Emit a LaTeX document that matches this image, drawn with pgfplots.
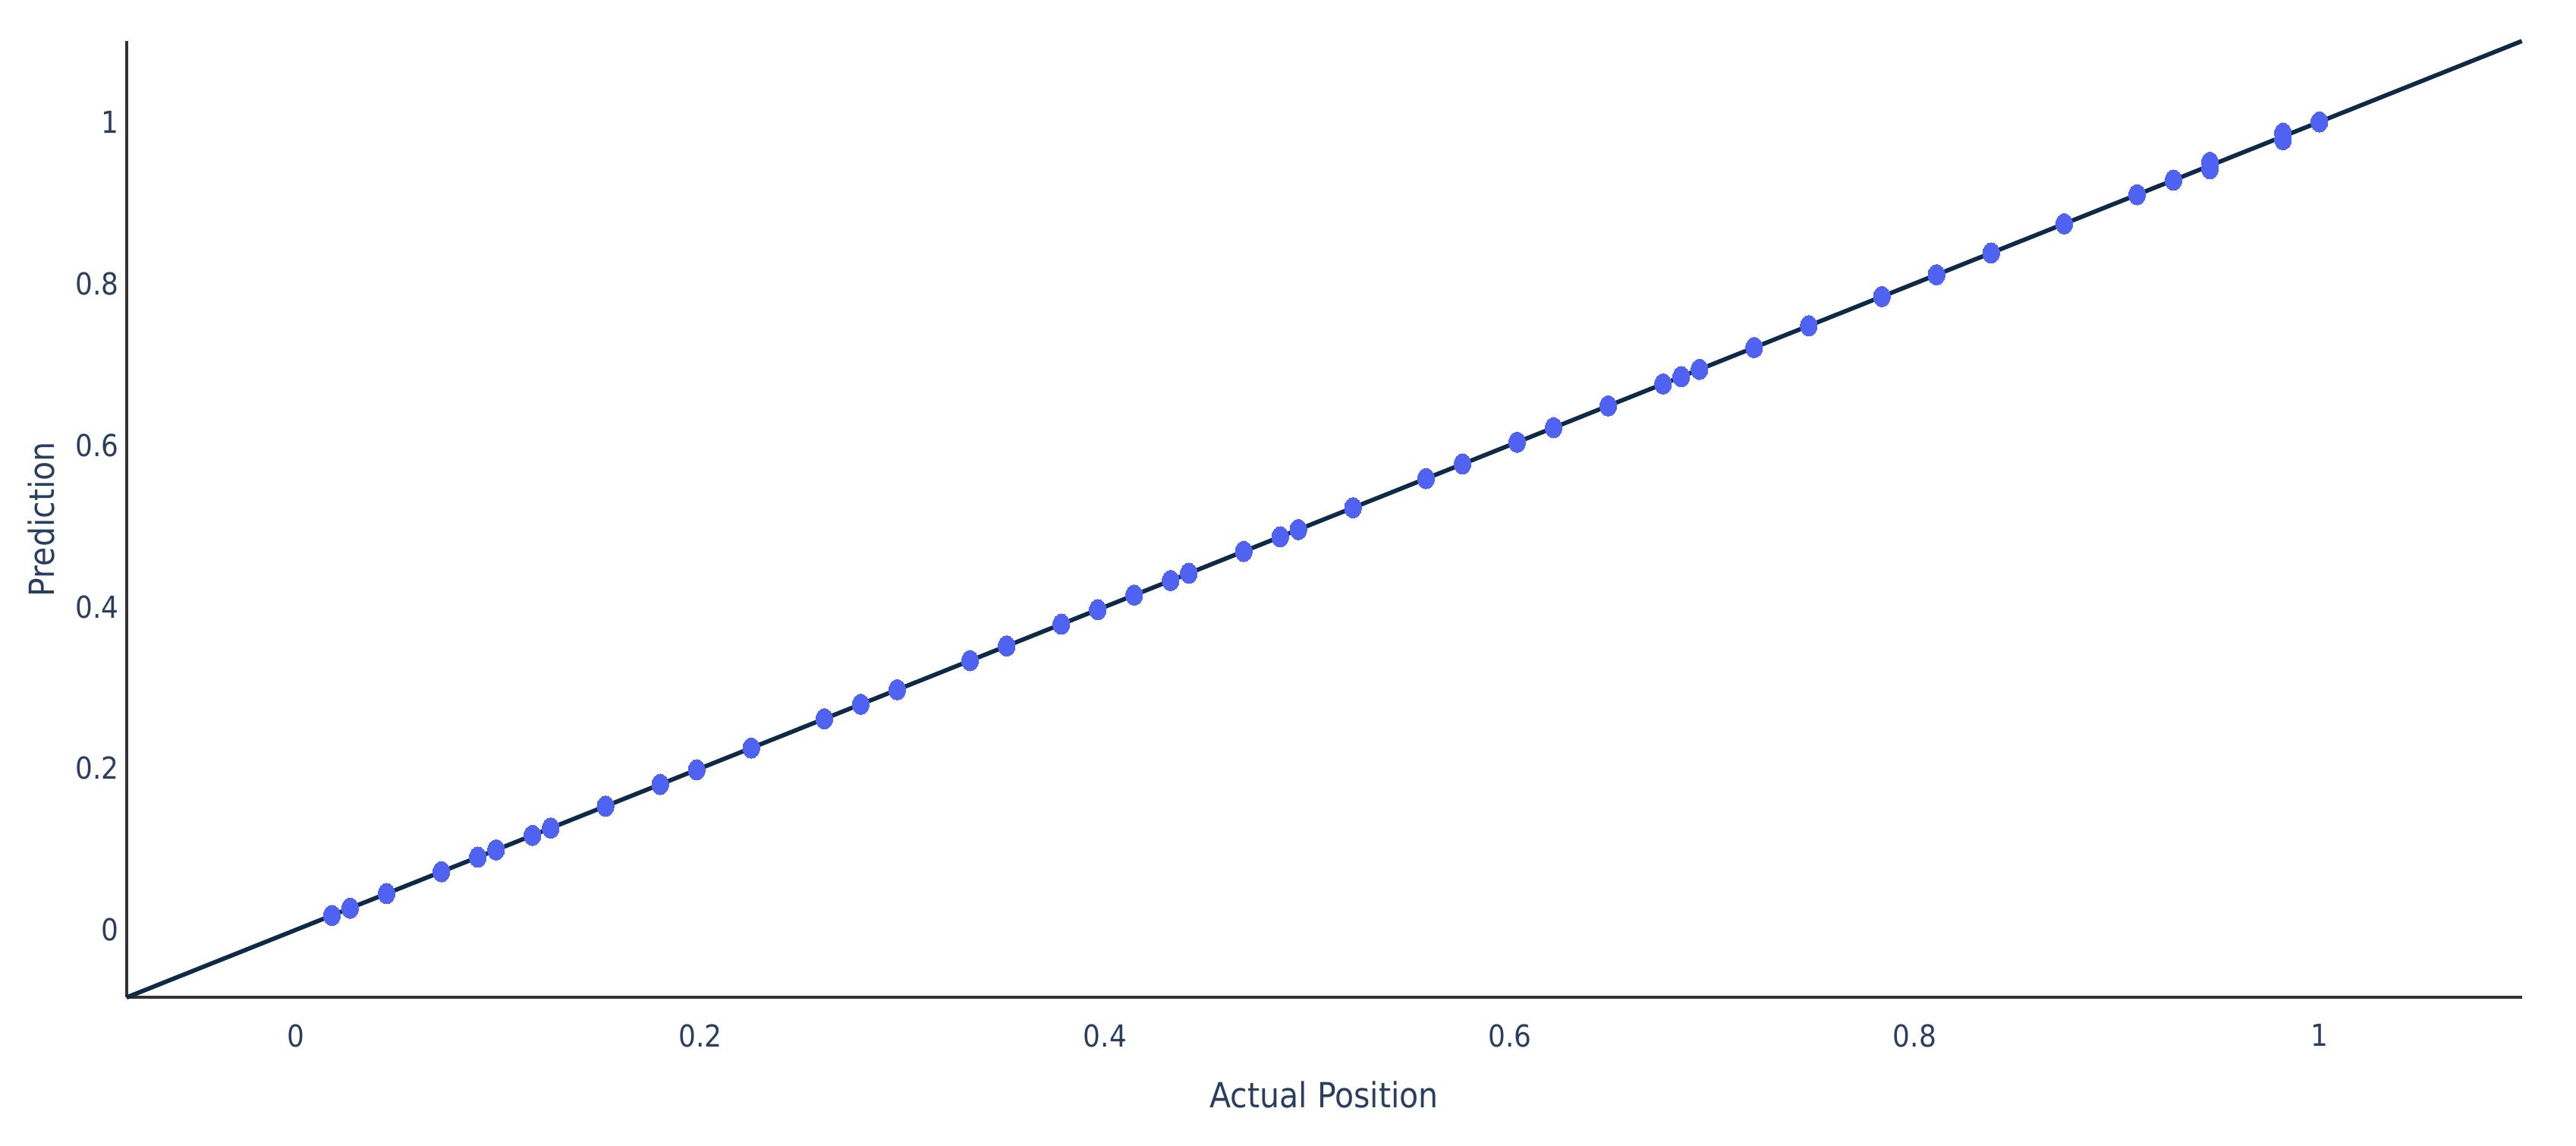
\documentclass[border=0pt]{standalone}
\usepackage{pgfplots}
\pgfplotsset{compat=1.18}
\usepackage{fontspec}
\setmainfont{DejaVu Sans Condensed}
\definecolor{txt}{HTML}{2A3F5F}
\definecolor{mk}{HTML}{4F62F2}
\definecolor{ln}{HTML}{0F2A47}
\definecolor{ax}{HTML}{333333}
\pgfplotstableread{
x y
0.0180 0.0180
0.0270 0.0270
0.0450 0.0450
0.0721 0.0721
0.0901 0.0901
0.0991 0.0991
0.1171 0.1171
0.1261 0.1261
0.1532 0.1532
0.1802 0.1802
0.1982 0.1982
0.2252 0.2252
0.2613 0.2613
0.2793 0.2793
0.2973 0.2973
0.3333 0.3333
0.3514 0.3514
0.3784 0.3784
0.3964 0.3964
0.4144 0.4144
0.4324 0.4324
0.4414 0.4414
0.4685 0.4685
0.4865 0.4865
0.4955 0.4955
0.5225 0.5225
0.5586 0.5586
0.5766 0.5766
0.6036 0.6036
0.6216 0.6216
0.6486 0.6486
0.6757 0.6757
0.6847 0.6847
0.6937 0.6937
0.7207 0.7207
0.7477 0.7477
0.7838 0.7838
0.8108 0.8108
0.8378 0.8378
0.8739 0.8739
0.9099 0.9099
0.9279 0.9279
0.9459 0.9420
0.9459 0.9500
0.9820 0.9780
0.9820 0.9860
1.0000 1.0000
}\points
\begin{document}
\begin{tikzpicture}
\begin{axis}[
  scale only axis,
  width=291.6mm, height=116.4mm,
  xmin=-0.0835, xmax=1.1, ymin=-0.0835, ymax=1.1,
  axis lines*=left,
  axis line style={ax, line width=1.1pt},
  major tick length=0pt,
  xtick={0,0.2,0.4,0.6,0.8,1},
  xticklabels={0,0.2,0.4,0.6,0.8,1},
  ytick={0,0.2,0.4,0.6,0.8,1},
  yticklabels={0,0.2,0.4,0.6,0.8,1},
  tick label style={font=\fontsize{10.5}{12}\selectfont, text=txt},
  xticklabel style={yshift=-2.0mm},
  yticklabel style={inner sep=2.5pt},
  xlabel={Actual Position},
  ylabel={Prediction},
  label style={font=\fontsize{12}{14}\selectfont, text=txt},
  xlabel style={at={(axis description cs:0.5,-0.1014)}, anchor=center},
  ylabel style={at={(axis description cs:-0.0357,0.5)}, anchor=center},
  clip=false,
]
\addplot[only marks, color=mk, mark=*, mark size=1.25mm, mark options={xscale=0.82, fill=mk, draw=mk, line width=0pt}] table[x=x,y=y]{\points};
\addplot[ln, line width=1.5pt] coordinates {(-0.0835,-0.0835) (1.1,1.1)};
\coordinate (SW) at (rel axis cs:0,0);
\coordinate (NE) at (rel axis cs:1,1);
\end{axis}
\pgfresetboundingbox
\path[use as bounding box] ([shift={(-15.4mm,-18mm)}]SW) rectangle ([shift={(6.6mm,5mm)}]NE);
\end{tikzpicture}
\end{document}
